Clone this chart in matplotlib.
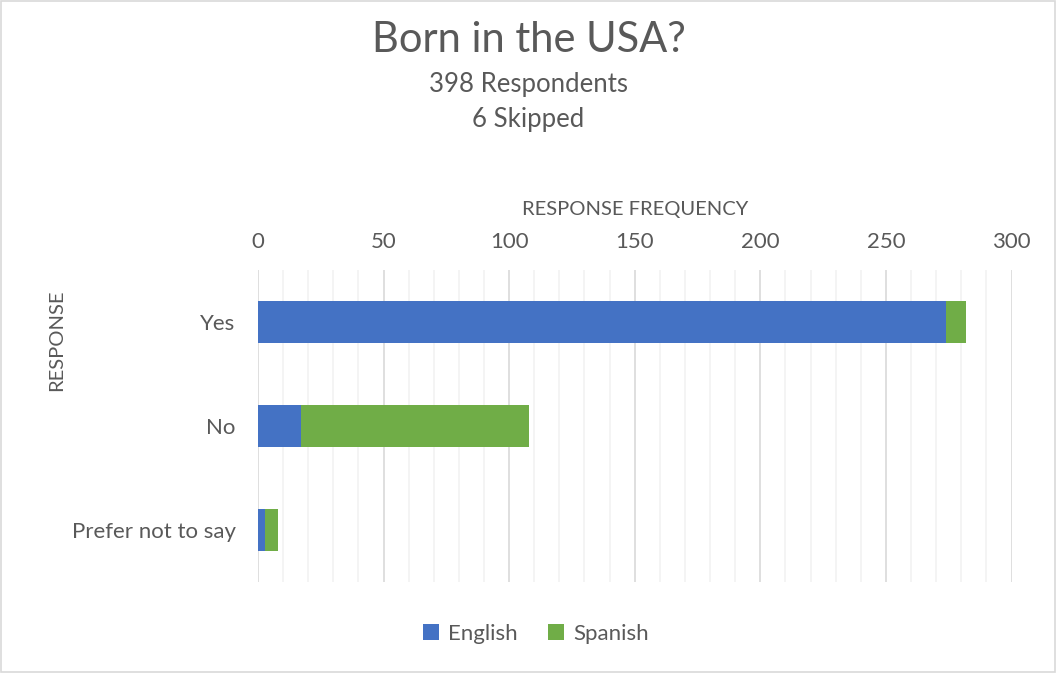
import numpy as np
import matplotlib.pyplot as plt
from matplotlib.ticker import MultipleLocator
from matplotlib.patches import Rectangle

plt.rcParams['font.family'] = ['Lato', 'DejaVu Sans']

# data
categories = ['Yes', 'No', 'Prefer not to say']
english = [274, 17, 3]
spanish = [8, 91, 5]

blue = '#4472C4'
green = '#70AD47'
grey_text = '#595959'

fig = plt.figure(figsize=(10.57, 6.73), dpi=100)
ax = fig.add_axes([0.244, 0.135, 0.713, 0.464])

y = np.arange(len(categories))
ax.barh(y, english, height=0.4, color=blue, label='English')
ax.barh(y, spanish, left=english, height=0.4, color=green, label='Spanish')

ax.set_xlim(0, 300)
ax.set_ylim(len(categories) - 0.5, -0.5)
ax.set_yticks(y)
ax.set_yticklabels(categories)

ax.xaxis.set_major_locator(MultipleLocator(50))
ax.xaxis.set_minor_locator(MultipleLocator(10))
ax.xaxis.tick_top()
ax.xaxis.set_label_position('top')
ax.grid(axis='x', which='major', color='#D9D9D9', linewidth=1.2)
ax.grid(axis='x', which='minor', color='#F2F2F2', linewidth=1.2)
ax.set_axisbelow(True)
ax.tick_params(axis='both', which='both', length=0, labelsize=16, labelcolor=grey_text)
ax.tick_params(axis='x', pad=13)
ax.tick_params(axis='y', pad=16)
for s in ax.spines.values():
    s.set_visible(False)

ax.set_xlabel('RESPONSE FREQUENCY', fontsize=14.5, color=grey_text, labelpad=12)
ax.set_ylabel('RESPONSE', fontsize=14.5, color=grey_text)
ax.yaxis.set_label_coords(-0.256, 0.776)

fig.text(0.5, 0.94, 'Born in the USA?', ha='center', va='center', fontsize=30, color=grey_text)
fig.text(0.5, 0.874, '398 Respondents', ha='center', va='center', fontsize=18.5, color=grey_text)
fig.text(0.5, 0.822, '6 Skipped', ha='center', va='center', fontsize=18.5, color=grey_text)

fig.legend(loc='center', bbox_to_anchor=(0.507, 0.058), ncol=2, frameon=False,
           fontsize=16, labelcolor=grey_text, handlelength=0.7, handleheight=0.7,
           handletextpad=0.4, columnspacing=1.4)

fig.patches.append(Rectangle((0.001, 0.001), 0.997, 0.997, transform=fig.transFigure,
                             fill=False, edgecolor='#D9D9D9', linewidth=1.2))

fig.savefig('out.png', dpi=100)
